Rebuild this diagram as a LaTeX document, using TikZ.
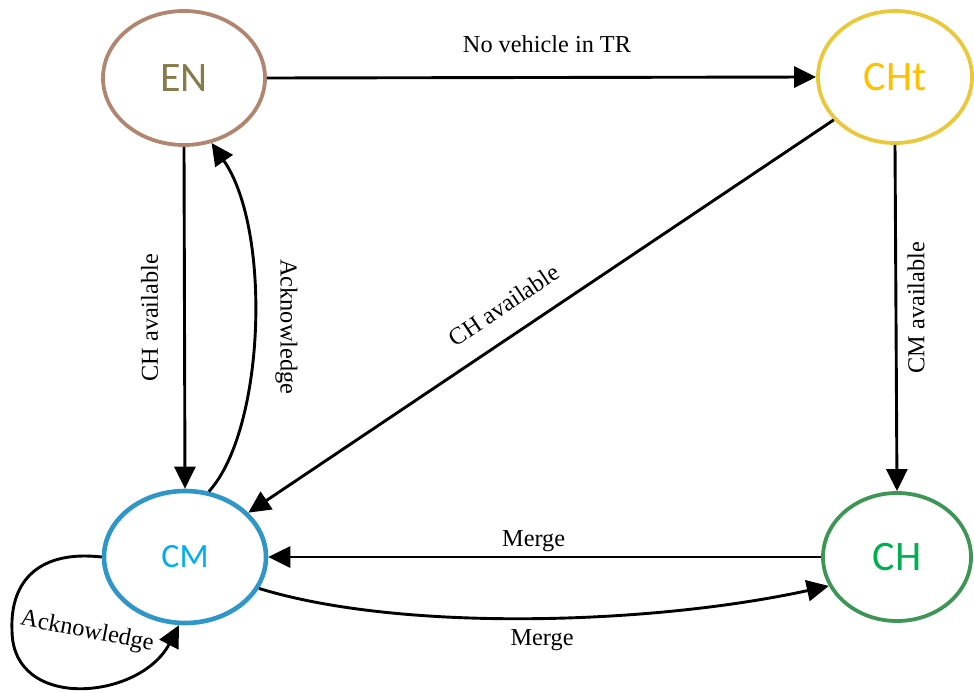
\documentclass[tikz,border=0pt]{standalone}
\usepackage{fontspec}
\setmainfont{Liberation Serif}
\newfontfamily\calib{Carlito}
\usetikzlibrary{shapes.geometric,arrows.meta}
\definecolor{enb}{HTML}{B08670}
\definecolor{ent}{HTML}{857C4A}
\definecolor{chtb}{HTML}{E9C93B}
\definecolor{chtt}{HTML}{FFC000}
\definecolor{cmb}{HTML}{2F96C8}
\definecolor{cmt}{HTML}{00AEEF}
\definecolor{chb}{HTML}{3E9656}
\definecolor{cht}{HTML}{00B050}
\tikzset{
  statenode/.style={ellipse, draw, line width=3.8pt, inner sep=0pt, font=\calib\fontsize{42}{46}\selectfont},
  conn/.style={line width=2.9pt, -{Triangle[length=22pt,width=21pt]}},
  lbl/.style={font=\fontsize{24.3}{28}\selectfont, inner sep=3pt}
}
\begin{document}
\begin{tikzpicture}[x=1pt,y=-1pt]
\useasboundingbox (0,0) rectangle (974,693);
\node[statenode, draw=enb, text=ent, minimum width=162pt, minimum height=134pt] (EN) at (184,78) {EN};
\node[statenode, draw=chtb, text=chtt, minimum width=154pt, minimum height=132pt] (CHt) at (895,77) {CHt};
\node[statenode, draw=cmb, text=cmt, line width=4.6pt, minimum width=162pt, minimum height=132pt, font=\calib\fontsize{34}{38}\selectfont] (CM) at (185,557) {CM};
\node[statenode, draw=chb, text=cht, minimum width=148pt, minimum height=128pt] (CH) at (897,557) {CH};

\draw[conn] (EN.east) -- node[lbl, above, pos=0.51, yshift=20pt] {No vehicle in TR} (CHt.west);
\draw[conn] (EN.south) -- node[lbl, pos=0.5, rotate=90, anchor=south, inner sep=25pt] {CH available} (CM.north);
\draw[conn] (CM.70) .. controls (265,430) and (272,230) .. node[lbl, pos=0.5, rotate=-90, anchor=south, inner sep=20pt] {Acknowledge} (EN.-67);
\draw[conn] (CHt.215) -- node[lbl, pos=0.535, sloped, above, inner sep=20pt] {CH available} (CM.35);
\draw[conn] (CHt.south) -- node[lbl, pos=0.47, rotate=90, anchor=north, inner sep=10pt] {CM available} (CH.north);
\draw[conn] (CH.west) -- node[lbl, above, pos=0.52, inner sep=4pt] {Merge} (CM.east);
\draw[conn] (CM.-23) .. controls (400,632) and (650,625) .. node[lbl, below, pos=0.52, inner sep=10pt] {Merge} (CH.203);
\draw[conn] (CM.180) .. controls (40,550) and (10,580) .. (12,630) .. controls (12,712) and (140,700) .. (CM.-95);
\node[lbl, rotate=-11] (ackloop) at (87,632) {Acknowledge};
\end{tikzpicture}
\end{document}
